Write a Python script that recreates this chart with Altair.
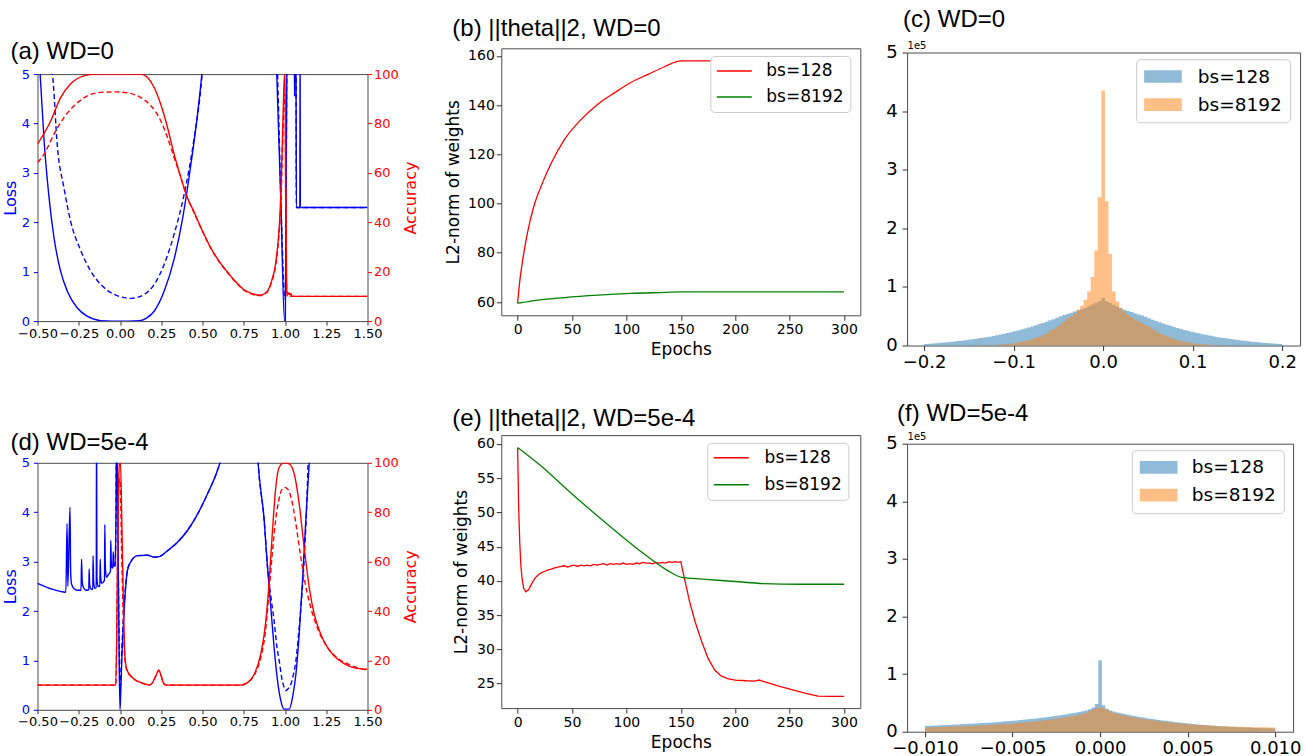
import altair as alt
import pandas as pd

TICK_FONT = "DejaVu Sans"
TITLE_FONT = "Liberation Sans"
BLUE, RED, GREEN = "#0000ff", "#ff0000", "#008000"
C0, C1 = "#1f77b4", "#ff7f0e"
FRAME = "#4d4d4d"

# ---------------- (a) WD=0 : loss / accuracy along the interpolation path
A_TRAIN_LOSS_X = [-0.5, -0.484, -0.46, -0.43, -0.4, -0.36, -0.32, -0.26, -0.2, -0.12, -0.05, 0.05, 0.12, 0.16,
                  0.207, 0.268, 0.33, 0.38, 0.43, 0.47, 0.496, 0.52, 0.94, 0.95, 0.975, 0.997, 1.002, 1.011,
                  1.02, 1.055, 1.058, 1.061, 1.066, 1.069, 1.09, 1.0915, 1.093, 1.5]
A_TRAIN_LOSS_Y = [6.0, 5.0, 3.65, 2.5, 1.69, 1.01, 0.61, 0.27, 0.1, 0.01, 0.0, 0.0, 0.01, 0.06,
                  0.2, 0.61, 1.28, 2.09, 3.18, 4.19, 5.0, 6.0, 6.0, 5.0, 2.4, 0.0, 0.0, 5.0,
                  6.0, 6.0, 4.55, 6.0, 6.0, 2.3, 2.3, 6.0, 2.3, 2.3]
A_TEST_LOSS_X = [-0.5, -0.41, -0.379, -0.34, -0.3, -0.237, -0.177, -0.116, -0.035, 0.066, 0.146, 0.207,
                 0.268, 0.328, 0.389, 0.45, 0.496, 0.52, 0.945, 0.955, 0.98, 0.997, 1.002, 1.011, 1.02,
                 1.066, 1.069, 1.5]
A_TEST_LOSS_Y = [6.0, 5.0, 3.51, 2.7, 2.03, 1.42, 1.01, 0.74, 0.54, 0.46, 0.54, 0.74,
                 1.15, 1.76, 2.57, 3.72, 4.93, 6.0, 6.0, 5.0, 1.9, 0.5, 0.45, 5.0, 6.0,
                 6.0, 2.3, 2.3]
A_TRAIN_ACC_X = [-0.5, -0.42, -0.36, -0.3, -0.22, -0.15, 0.126, 0.167, 0.207, 0.247, 0.288, 0.328, 0.369,
                 0.4, 0.45, 0.5, 0.55, 0.6, 0.65, 0.7, 0.75, 0.8, 0.85, 0.88, 0.9, 0.92, 0.94, 0.955,
                 0.965, 0.975, 0.985, 0.992, 0.997, 1.001, 1.004, 1.006, 1.008, 1.011, 1.016, 1.02, 1.025,
                 1.03, 1.036, 1.042, 1.5]
A_TRAIN_ACC_Y = [71.6, 81.0, 90.5, 96.0, 99.3, 100.0, 100.0, 98.6, 94.6, 87.8, 78.4, 67.6, 58.1,
                 51.5, 44.0, 36.5, 29.7, 24.3, 20.0, 16.0, 12.8, 11.1, 10.5, 11.3, 12.8, 16.5, 22.0, 30.0,
                 38.0, 52.0, 75.0, 92.0, 100.0, 100.0, 40.0, 53.0, 30.0, 12.0, 11.5, 10.8, 11.5,
                 10.5, 11.2, 10.0, 10.0]
A_TEST_ACC_X = [-0.5, -0.46, -0.4, -0.34, -0.278, -0.197, -0.116, -0.025, 0.045, 0.126, 0.187, 0.247,
                0.288, 0.328, 0.369, 0.4, 0.45, 0.5, 0.55, 0.6, 0.65, 0.7, 0.75, 0.8, 0.85, 0.88, 0.9,
                0.92, 0.94, 0.955, 0.965, 0.975, 0.985, 0.992, 0.998, 1.002, 1.006, 1.01, 1.015, 1.5]
A_TEST_ACC_Y = [64.2, 67.6, 75.7, 82.4, 87.2, 91.2, 92.6, 92.8, 92.4, 90.5, 87.2, 81.1,
                74.3, 66.2, 58.1, 51.3, 43.8, 36.3, 29.5, 24.1, 19.8, 15.8, 12.6, 10.9, 10.3, 11.1, 12.6,
                16.0, 21.0, 28.5, 36.0, 48.0, 70.0, 86.0, 92.0, 88.0, 40.0, 12.0, 10.0, 10.0]

# ---------------- (d) WD=5e-4
D_TRAIN_LOSS_X = [-0.5, -0.42, -0.328, -0.321, -0.316, -0.303, -0.299, -0.294, -0.278, -0.258, -0.236,
                  -0.233, -0.229, -0.221, -0.207, -0.189, -0.187, -0.184, -0.177, -0.165, -0.163, -0.16,
                  -0.153, -0.144, -0.142, -0.14, -0.134, -0.122, -0.12, -0.117, -0.112, -0.094, -0.092,
                  -0.089, -0.082, -0.07, -0.058, -0.056, -0.053, -0.048, -0.043, -0.041, -0.038, -0.03,
                  -0.024, -0.021, -0.019, -0.017, -0.011, -0.005, 0.0, 0.005, 0.012, 0.025, 0.045, 0.066,
                  0.106, 0.167, 0.207, 0.237, 0.288, 0.348, 0.409, 0.47, 0.53, 0.58, 0.611, 0.64, 0.82,
                  0.837, 0.874, 0.894, 0.914, 0.934, 0.955, 0.975, 0.995, 1.025, 1.045, 1.066, 1.086,
                  1.106, 1.126, 1.147, 1.17, 1.5]
D_TRAIN_LOSS_Y = [2.56, 2.45, 2.38, 3.77, 2.5, 4.1, 2.8, 2.55, 2.45, 2.42, 2.42,
                  3.05, 2.6, 2.47, 2.42, 2.43, 2.85, 2.55, 2.45, 2.44, 3.12, 2.6,
                  2.46, 2.47, 6.0, 2.7, 2.5, 2.5, 3.05, 2.7, 2.56, 2.62, 3.75,
                  2.9, 2.68, 2.74, 2.8, 3.43, 3.0, 2.87, 2.88, 3.2, 2.95, 2.9,
                  4.0, 6.0, 6.0, 5.0, 3.0, 1.1, 0.0, 0.4, 1.1, 2.0, 2.82, 3.0,
                  3.12, 3.13, 3.09, 3.1, 3.22, 3.39, 3.63, 3.96, 4.37, 4.75, 5.05, 5.4, 6.0,
                  5.0, 3.83, 2.88, 2.07, 1.26, 0.58, 0.18, 0.01, 0.01, 0.24, 0.72, 1.53,
                  2.61, 3.83, 5.0, 6.0, 6.0]
D_TEST_LOSS_X = [-0.03, -0.024, -0.021, -0.019, -0.017, -0.011, -0.005, -0.001, 0.004, 0.012, 0.025, 0.045,
                 0.066, 0.106, 0.167, 0.207, 0.237, 0.288, 0.348, 0.409, 0.47, 0.53, 0.58, 0.611, 0.64,
                 0.82, 0.837, 0.874, 0.894, 0.914, 0.934, 0.95, 0.965, 0.98, 0.995, 1.005, 1.02, 1.035,
                 1.05, 1.066, 1.08, 1.096, 1.11, 1.12, 1.13, 1.14, 1.16, 1.5]
D_TEST_LOSS_Y = [2.9, 4.0, 6.0, 6.0, 5.0, 3.1, 1.2, 0.32, 0.6, 1.3, 2.1, 2.82,
                 3.0, 3.12, 3.13, 3.09, 3.1, 3.22, 3.39, 3.63, 3.96, 4.37, 4.75, 5.05, 5.4,
                 6.0, 5.0, 3.83, 2.9, 2.3, 1.8, 1.3, 0.99, 0.65, 0.45, 0.39, 0.43, 0.51,
                 0.7, 0.99, 1.45, 2.07, 2.7, 3.29, 4.0, 5.0, 6.0, 6.0]
D_TRAIN_ACC_X = [-0.5, -0.026, -0.02, -0.015, -0.009, -0.003, 0.003, 0.011, 0.021, 0.029, 0.041, 0.066,
                 0.106, 0.147, 0.177, 0.197, 0.217, 0.235, 0.247, 0.262, 0.278, 0.732, 0.773, 0.813,
                 0.853, 0.884, 0.904, 0.924, 0.944, 0.965, 0.995, 1.025, 1.056, 1.086, 1.116, 1.147,
                 1.177, 1.217, 1.258, 1.298, 1.358, 1.42, 1.5]
D_TRAIN_ACC_Y = [10.0, 10.0, 30.0, 63.0, 90.0, 99.6, 100.0, 76.6, 42.8, 22.5, 16.4, 13.7,
                 11.6, 10.6, 10.0, 11.0, 13.7, 16.0, 14.3, 11.0, 10.0, 10.0, 11.0, 14.3,
                 22.5, 36.0, 52.0, 72.5, 90.0, 98.2, 100.0, 99.6, 95.5, 83.4, 65.8, 49.5,
                 38.7, 30.6, 25.2, 21.8, 18.7, 17.0, 16.4]
D_TEST_ACC_X = [-0.5, -0.025, -0.02, -0.015, -0.01, -0.004, 0.0, 0.004, 0.011, 0.021, 0.029, 0.041,
                0.066, 0.106, 0.147, 0.177, 0.197, 0.217, 0.235, 0.247, 0.262, 0.278, 0.732, 0.773,
                0.813, 0.853, 0.88, 0.9, 0.92, 0.94, 0.96, 0.98, 1.0, 1.02, 1.04, 1.06, 1.08, 1.1,
                1.12, 1.15, 1.2, 1.25, 1.3, 1.4, 1.5]
D_TEST_ACC_Y = [10.0, 10.0, 28.0, 58.0, 85.0, 93.0, 93.5, 85.0, 60.0, 35.0, 21.0, 16.0,
                13.5, 11.5, 10.5, 10.0, 11.0, 13.7, 16.0, 14.3, 11.0, 10.0, 10.0, 11.0,
                14.0, 21.0, 31.0, 45.0, 61.0, 75.0, 84.0, 89.0, 90.0, 89.0, 85.0, 78.0, 69.0, 60.0,
                52.0, 43.0, 32.5, 26.0, 22.0, 18.0, 16.0]

# ---------------- (b) ||theta||2, WD=0
B_EPOCH_128 = [0, 2, 5, 9, 15, 22, 31, 43, 58, 74, 89, 104, 120, 135, 150, 300]
B_NORM_128 = [59.5, 68.5, 78.0, 88.0, 99.0, 107.5, 116.5, 126.0, 134.0, 140.5, 145.0, 149.2, 152.5, 155.6, 158.0, 158.0]
B_EPOCH_8192 = [0, 12, 43, 74, 104, 135, 150, 300]
B_NORM_8192 = [59.5, 60.4, 61.8, 62.8, 63.5, 63.9, 64.1, 64.1]

# ---------------- (e) ||theta||2, WD=5e-4
E_EPOCH_128 = [0, 1, 2, 3, 4, 5.5, 7.5, 10, 13, 16, 19, 22, 25, 28, 31, 34, 37, 40, 43, 46, 49, 52, 55, 58,
               61, 64, 67, 70, 73, 76, 79, 82, 85, 88, 91, 94, 97, 100, 103, 106, 109, 112, 115, 118, 121,
               124, 127, 130, 133, 136, 139, 142, 145, 148, 150, 152, 155, 158, 163, 169, 175, 181, 187,
               193, 200, 210, 218, 222, 228, 240, 252, 264, 276, 288, 300]
E_NORM_128 = [59.4, 50.5, 45.5, 42.2, 40.5, 38.9, 38.4, 38.7, 39.6, 40.4, 40.9, 41.2, 41.4, 41.6, 41.7,
              41.9, 42.0, 42.1, 42.2, 42.0, 42.2, 42.3, 42.1, 42.3, 42.2, 42.3, 42.2, 42.4, 42.3, 42.4,
              42.5, 42.3, 42.5, 42.4, 42.5, 42.4, 42.6, 42.4, 42.5, 42.4, 42.6, 42.5, 42.7, 42.6, 42.6,
              42.5, 42.7, 42.6, 42.7, 42.6, 42.8, 42.7, 42.8, 42.7, 42.8, 41.3, 39.2, 37.0, 34.1, 31.2,
              28.7, 27.0, 26.1, 25.7, 25.5, 25.4, 25.35, 25.5, 25.2, 24.6, 24.1, 23.6, 23.15, 23.1, 23.1]
E_EPOCH_8192 = [0, 20, 50, 80, 110, 140, 151, 170, 200, 226, 260, 300]
E_NORM_8192 = [59.5, 57.0, 52.7, 48.6, 44.7, 41.3, 40.5, 40.25, 39.9, 39.6, 39.5, 39.5]

# ---------------- (c) weight histogram, WD=0 (counts in units of 1e5, 101 bins over [-0.2, 0.2])
C_RANGE = [-0.2, 0.2]
C_BS128 = [0.027, 0.031, 0.035, 0.040, 0.045, 0.050, 0.056, 0.062, 0.068, 0.075,
           0.082, 0.089, 0.097, 0.105, 0.113, 0.122, 0.131, 0.141, 0.151, 0.163,
           0.176, 0.188, 0.200, 0.214, 0.228, 0.243, 0.258, 0.274, 0.290, 0.308,
           0.325, 0.345, 0.365, 0.385, 0.405, 0.430, 0.450, 0.475, 0.500, 0.520,
           0.540, 0.560, 0.580, 0.600, 0.620, 0.640, 0.670, 0.700, 0.730, 0.760,
           0.815,
           0.755, 0.725, 0.695, 0.665, 0.635, 0.610, 0.590, 0.570, 0.550, 0.530,
           0.510, 0.490, 0.465, 0.440, 0.418, 0.395, 0.375, 0.355, 0.335, 0.316,
           0.298, 0.281, 0.265, 0.250, 0.235, 0.221, 0.207, 0.194, 0.182, 0.170,
           0.158, 0.147, 0.137, 0.127, 0.118, 0.109, 0.101, 0.093, 0.086, 0.079,
           0.072, 0.066, 0.060, 0.054, 0.049, 0.044, 0.039, 0.034, 0.030, 0.026]
C_BS8192 = [0.000, 0.000, 0.000, 0.001, 0.001, 0.001, 0.001, 0.001, 0.001, 0.001,
            0.001, 0.001, 0.001, 0.001, 0.002, 0.003, 0.004, 0.005, 0.007, 0.009,
            0.012, 0.015, 0.020, 0.025, 0.032, 0.040, 0.050, 0.062, 0.075, 0.090,
            0.110, 0.130, 0.155, 0.180, 0.210, 0.245, 0.280, 0.320, 0.360, 0.410,
            0.460, 0.500, 0.550, 0.610, 0.680, 0.780, 0.920, 1.170, 1.620, 2.530,
            4.350,
            2.460, 1.560, 0.920, 0.750, 0.640, 0.575, 0.525, 0.485, 0.450, 0.415,
            0.380, 0.350, 0.315, 0.280, 0.245, 0.215, 0.185, 0.160, 0.135, 0.115,
            0.095, 0.078, 0.064, 0.052, 0.042, 0.034, 0.027, 0.021, 0.016, 0.012,
            0.009, 0.007, 0.005, 0.004, 0.003, 0.002, 0.001, 0.001, 0.001, 0.001,
            0.001, 0.001, 0.001, 0.001, 0.000, 0.000, 0.000, 0.000, 0.000, 0.000]

# ---------------- (f) weight histogram, WD=5e-4 (101 bins over [-0.01, 0.01])
F_RANGE = [-0.01, 0.01]
F_BS128 = [0.100, 0.103, 0.106, 0.109, 0.112, 0.115, 0.118, 0.121, 0.124, 0.127,
           0.130, 0.133, 0.136, 0.139, 0.142, 0.145, 0.149, 0.153, 0.157, 0.161,
           0.165, 0.170, 0.175, 0.180, 0.185, 0.190, 0.196, 0.202, 0.208, 0.214,
           0.220, 0.227, 0.234, 0.241, 0.248, 0.255, 0.263, 0.271, 0.280, 0.290,
           0.300, 0.310, 0.320, 0.330, 0.340, 0.355, 0.370, 0.390, 0.420, 0.480,
           1.240,
           0.460, 0.400, 0.370, 0.350, 0.335, 0.320, 0.307, 0.295, 0.283, 0.272,
           0.261, 0.251, 0.241, 0.231, 0.222, 0.213, 0.204, 0.196, 0.188, 0.180,
           0.172, 0.165, 0.158, 0.151, 0.145, 0.139, 0.133, 0.127, 0.122, 0.117,
           0.112, 0.107, 0.103, 0.099, 0.095, 0.091, 0.088, 0.085, 0.082, 0.079,
           0.076, 0.073, 0.071, 0.068, 0.066, 0.064, 0.062, 0.060, 0.058, 0.056]
F_BS8192 = [0.075, 0.077, 0.079, 0.081, 0.083, 0.085, 0.087, 0.089, 0.091, 0.093,
            0.095, 0.097, 0.099, 0.101, 0.104, 0.107, 0.110, 0.113, 0.116, 0.120,
            0.124, 0.128, 0.132, 0.136, 0.140, 0.145, 0.150, 0.155, 0.160, 0.166,
            0.172, 0.178, 0.184, 0.191, 0.198, 0.205, 0.213, 0.221, 0.230, 0.240,
            0.250, 0.260, 0.271, 0.282, 0.294, 0.310, 0.330, 0.355, 0.385, 0.410,
            0.425,
            0.405, 0.380, 0.350, 0.325, 0.310, 0.295, 0.281, 0.268, 0.256, 0.245,
            0.235, 0.225, 0.216, 0.207, 0.199, 0.191, 0.183, 0.176, 0.169, 0.162,
            0.156, 0.150, 0.144, 0.139, 0.134, 0.129, 0.124, 0.120, 0.116, 0.112,
            0.108, 0.105, 0.102, 0.099, 0.096, 0.093, 0.091, 0.089, 0.087, 0.085,
            0.083, 0.081, 0.080, 0.079, 0.078, 0.077, 0.076, 0.076, 0.075, 0.075]

RUNS = ["bs=128", "bs=8192"]

# legend glyphs: drawn from the left edge of the symbol slot rightwards
LINE_SYMBOL = "M-1.1333,0H3.5333"            # 35 px line at symbolSize 225
PATCH_SYMBOL = "M-1.15625,-0.794H3.556V0.794H-1.15625Z"   # 37.7 x 12.7 px patch at symbolSize 256


def axis(**kw):
    opts = dict(grid=False, domain=False, labelFont=TICK_FONT, titleFont=TICK_FONT,
                titleFontWeight="normal", labelColor="black", titleColor="black",
                tickColor="#333333", tickWidth=1, labelOverlap=False, labelFlush=False,
                labelBound=False)
    opts.update(kw)
    return alt.Axis(**opts)


def panel_title(text, dx, offset):
    return alt.TitleParams(text=text, anchor="start", frame="group", dx=dx, offset=offset,
                           font=TITLE_FONT, fontSize=24, fontWeight="normal", color="black")


def legend(x, y, pad, label_offset, row_pad, font_size, patch):
    opts = dict(title=None, orient="none", legendX=x, legendY=y, padding=pad,
                symbolOffset=0, labelOffset=label_offset, rowPadding=row_pad,
                labelFont=TICK_FONT, labelFontSize=font_size, labelColor="black",
                fillColor="white", strokeColor="#cccccc", cornerRadius=4)
    if patch:
        opts.update(symbolType=PATCH_SYMBOL, symbolSize=256, symbolOpacity=0.5,
                    symbolStrokeWidth=0)
    else:
        opts.update(symbolType=LINE_SYMBOL, symbolSize=225, symbolStrokeWidth=1.5,
                    symbolFillColor="transparent")
    return alt.Legend(**opts)


def spacer(height):
    # empty, invisible block used to push a column's first panel down
    return (alt.Chart(pd.DataFrame({"s": [0]}))
            .mark_point(size=0, opacity=0)
            .encode(x=alt.value(0), y=alt.value(0))
            .properties(width=1, height=height, view=alt.ViewBackground(stroke="transparent")))


def loss_acc_panel(train_loss, test_loss, train_acc, test_acc, title, width, height):
    x = alt.X("x:Q", scale=alt.Scale(domain=[-0.5, 1.5], nice=False, zero=False),
              axis=axis(values=[-0.5, -0.25, 0.0, 0.25, 0.5, 0.75, 1.0, 1.25, 1.5], format=".2f",
                        title=None, labelFontSize=13, tickSize=4, labelPadding=2))
    loss_y = alt.Y("v:Q", scale=alt.Scale(domain=[0, 5], nice=False, zero=False),
                   axis=axis(orient="left", values=[0, 1, 2, 3, 4, 5], title="Loss",
                             labelColor=BLUE, titleColor=BLUE, tickColor=BLUE, labelFontSize=13,
                             titleFontSize=16, tickSize=4, labelPadding=4, titlePadding=3))
    acc_y = alt.Y("v:Q", scale=alt.Scale(domain=[0, 100], nice=False, zero=False),
                  axis=axis(orient="right", values=[0, 20, 40, 60, 80, 100], title="Accuracy",
                            labelColor=RED, titleColor=RED, tickColor=RED, labelFontSize=13,
                            titleFontSize=16, tickSize=4, labelPadding=2, titlePadding=4,
                            titleAngle=270, titleBaseline="top"))

    def line(xy, color, dashed, y):
        df = pd.DataFrame({"x": xy[0], "v": xy[1]})
        mk = dict(color=color, strokeWidth=1.4, clip=True, interpolate="monotone")
        if dashed:
            mk["strokeDash"] = [5, 3]
        return alt.Chart(df).mark_line(**mk).encode(x=x, y=y)

    loss = alt.layer(line(train_loss, BLUE, False, loss_y), line(test_loss, BLUE, True, loss_y))
    acc = alt.layer(line(train_acc, RED, False, acc_y), line(test_acc, RED, True, acc_y))
    return (alt.layer(loss, acc).resolve_scale(y="independent")
            .properties(width=width, height=height, title=title))


def norm_panel(r128, r8192, interp128, y_domain, y_ticks, title, width, height, leg):
    x = alt.X("epoch:Q", scale=alt.Scale(domain=[-15, 315], nice=False, zero=False),
              axis=axis(values=[0, 50, 100, 150, 200, 250, 300], title="Epochs", labelFontSize=14,
                        titleFontSize=17, tickSize=5, labelPadding=2, titlePadding=5))
    y = alt.Y("norm:Q", scale=alt.Scale(domain=y_domain, nice=False, zero=False),
              axis=axis(values=y_ticks, title="L2-norm of weights", labelFontSize=14,
                        titleFontSize=17, tickSize=5, labelPadding=2, titlePadding=5.5))
    color = alt.Color("run:N", scale=alt.Scale(domain=RUNS, range=[RED, GREEN]), legend=leg)
    d1 = pd.DataFrame({"epoch": r128[0], "norm": r128[1], "run": RUNS[0]})
    d2 = pd.DataFrame({"epoch": r8192[0], "norm": r8192[1], "run": RUNS[1]})
    l1 = alt.Chart(d1).mark_line(strokeWidth=1.3, interpolate=interp128).encode(x=x, y=y, color=color)
    l2 = alt.Chart(d2).mark_line(strokeWidth=1.3, interpolate="monotone").encode(x=x, y=y, color=color)
    return alt.layer(l1, l2).properties(width=width, height=height, title=title)


def hist_panel(rng, h128, h8192, x_domain, x_ticks, x_fmt, title, width, height, leg):
    def table(heights, run):
        n = len(heights)
        step = (rng[1] - rng[0]) / n
        xs = [rng[0] + i * step for i in range(n)] + [rng[1]]
        ys = list(heights) + [heights[-1]]
        return pd.DataFrame({"w": xs, "count": ys, "run": run})

    x = alt.X("w:Q", scale=alt.Scale(domain=x_domain, nice=False, zero=False),
              axis=axis(values=x_ticks, format=x_fmt, title=None, labelFontSize=18, tickSize=5,
                        labelPadding=3))
    y = alt.Y("count:Q", stack=None, scale=alt.Scale(domain=[0, 5], nice=False, zero=True),
              axis=axis(values=[0, 1, 2, 3, 4, 5], format="d", title="1e5", titleAngle=0,
                        titleX=0, titleY=-4, titleAlign="left", titleBaseline="alphabetic",
                        titleFontSize=10, labelFontSize=18, tickSize=5, labelPadding=5))
    color = alt.Color("run:N", scale=alt.Scale(domain=RUNS, range=[C0, C1]), legend=leg)
    a1 = alt.Chart(table(h128, RUNS[0])).mark_area(interpolate="step-after", opacity=0.5).encode(
        x=x, y=y, color=color)
    a2 = alt.Chart(table(h8192, RUNS[1])).mark_area(interpolate="step-after", opacity=0.5).encode(
        x=x, y=y, color=color)
    return alt.layer(a1, a2).properties(width=width, height=height, title=title)


panel_a = loss_acc_panel((A_TRAIN_LOSS_X, A_TRAIN_LOSS_Y), (A_TEST_LOSS_X, A_TEST_LOSS_Y),
                         (A_TRAIN_ACC_X, A_TRAIN_ACC_Y), (A_TEST_ACC_X, A_TEST_ACC_Y),
                         panel_title("(a) WD=0", -27, 4), 330, 247)
panel_d = loss_acc_panel((D_TRAIN_LOSS_X, D_TRAIN_LOSS_Y), (D_TEST_LOSS_X, D_TEST_LOSS_Y),
                         (D_TRAIN_ACC_X, D_TRAIN_ACC_Y), (D_TEST_ACC_X, D_TEST_ACC_Y),
                         panel_title("(d) WD=5e-4", -27, 1.7), 330, 247)

panel_b = norm_panel((B_EPOCH_128, B_NORM_128), (B_EPOCH_8192, B_NORM_8192), "monotone", [54.6, 163.1],
                     [60, 80, 100, 120, 140, 160], panel_title("(b) ||theta||2, WD=0", -49, 7.2),
                     359, 267, legend(209, 7.7, 6.5, 32.5, 8, 17, False))
panel_e = norm_panel((E_EPOCH_128, E_NORM_128), (E_EPOCH_8192, E_NORM_8192), "linear", [21.4, 61.3],
                     [25, 30, 35, 40, 45, 50, 55, 60], panel_title("(e) ||theta||2, WD=5e-4", -49, 3.7),
                     359, 273, legend(206, 7.7, 6.5, 33.8, 9, 17, False))

panel_c = hist_panel(C_RANGE, C_BS128, C_BS8192, [-0.219, 0.22], [-0.2, -0.1, 0.0, 0.1, 0.2], ".1f",
                     panel_title("(c) WD=0", -4, 8.5), 393, 293,
                     legend(229, 6.75, 8, 35.2, 9.2, 18.5, True))
panel_f = hist_panel(F_RANGE, F_BS128, F_BS8192, [-0.01102, 0.01102],
                     [-0.01, -0.005, 0.0, 0.005, 0.01], ".3f",
                     panel_title("(f) WD=5e-4", -10, 5.3), 386, 288,
                     legend(224.7, 6.45, 8, 33.5, 8.8, 18.5, True))


def column(first, second, gap, top):
    pair = alt.vconcat(first, second, spacing=gap).resolve_scale(color="independent")
    return alt.vconcat(spacer(1), pair, spacing=top).resolve_scale(color="independent")


col1 = column(panel_a, panel_d, 88.7, 36.1)
col2 = column(panel_b, panel_e, 47.8, 13.3)
col3 = column(panel_c, panel_f, 29.2, 4.5)

chart = (alt.hconcat(col1, col2, col3, spacing=23.8)
         .resolve_scale(color="independent")
         .properties(padding={"left": 1.5, "top": 0, "right": 0, "bottom": 0})
         .configure_view(stroke=FRAME, strokeWidth=1))

chart.save("out.html", embed_options={"renderer": "svg", "actions": False})
